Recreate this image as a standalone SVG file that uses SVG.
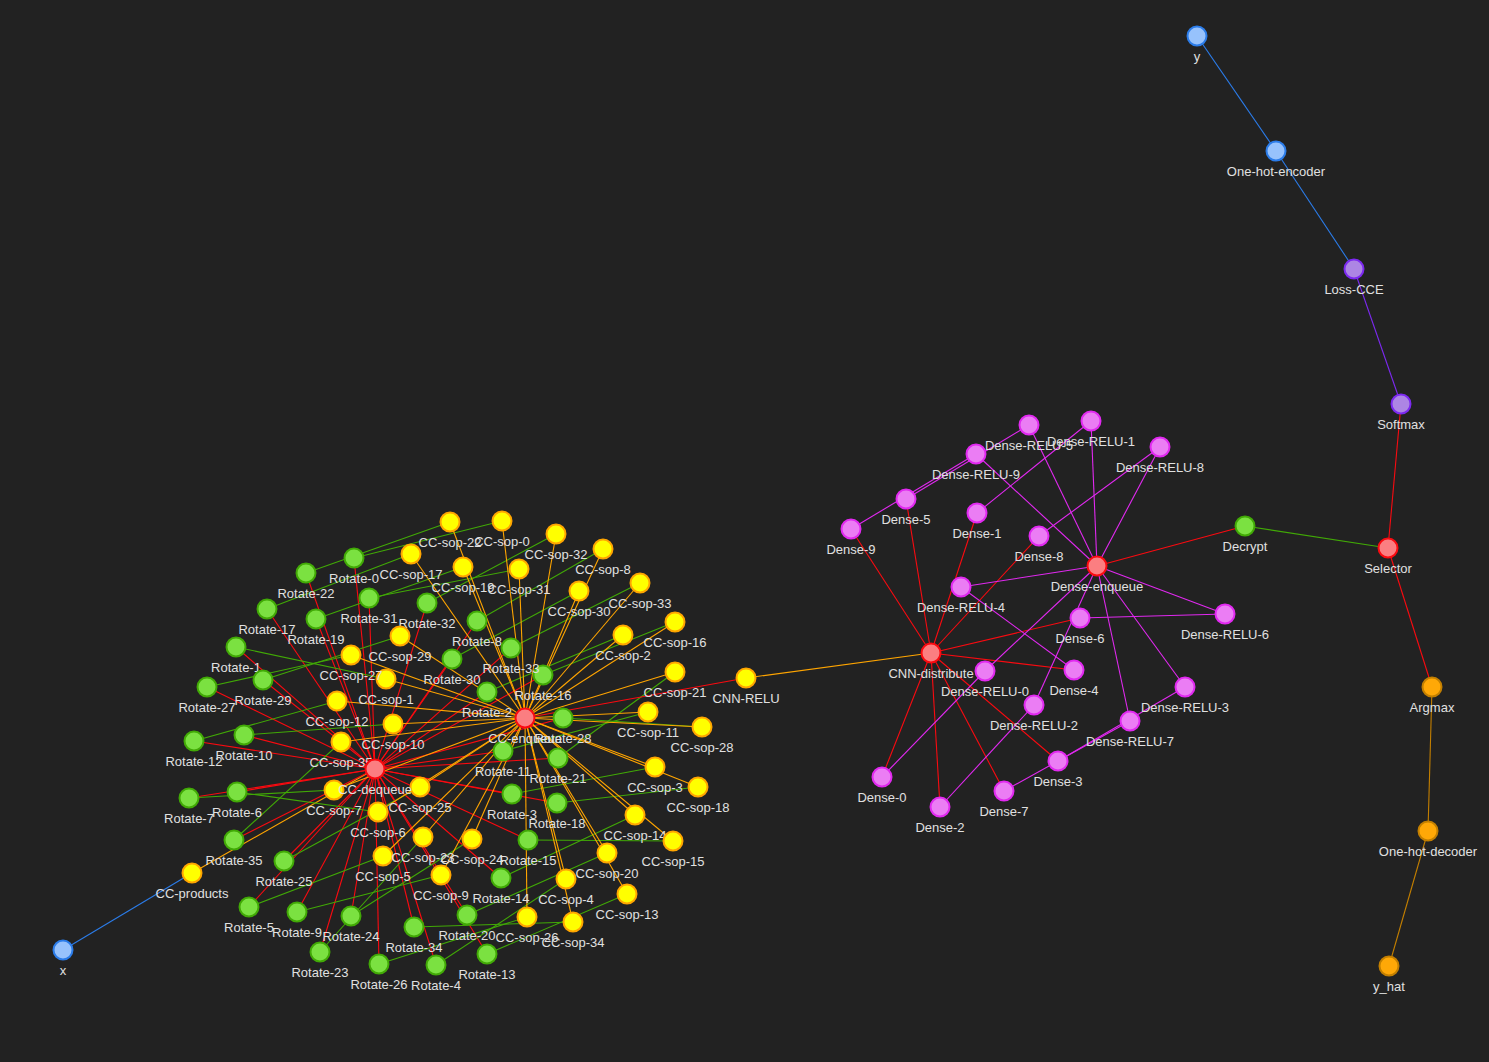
<svg xmlns="http://www.w3.org/2000/svg" width="1489" height="1062" viewBox="0 0 1489 1062">
<style>
.bg{fill:#222222}
line{stroke-width:1.1;fill:none}
.eb{stroke:#2B7CE9}.ey{stroke:#FFA500}.er{stroke:#FA0A10}.eg{stroke:#41A906}.em{stroke:#E129F0}.ep{stroke:#7C29F0}.eo{stroke:#C37F00}
circle{stroke-width:2}
.b circle{fill:#97C2FC;stroke:#2B7CE9}
.y circle{fill:#FFFF00;stroke:#FFA500}
.r circle{fill:#FB7E81;stroke:#FA0A10}
.g circle{fill:#7BE141;stroke:#41A906}
.m circle{fill:#EB7DF4;stroke:#E129F0}
.p circle{fill:#AD85E4;stroke:#7C29F0}
.o circle{fill:#FFA807;stroke:#C37F00}
text{font-family:"Liberation Sans",Arial,sans-serif;font-size:13px;fill:#e0e0e0;text-anchor:middle}
</style>
<rect class="bg" x="0" y="0" width="1489" height="1062"/>
<g id="connectors">
<line class="eb" x1="63" y1="950" x2="192" y2="873"/>
<line class="ey" x1="192" y1="873" x2="375" y2="769"/>
<!-- CC-dequeue to Rotate -->
<line class="er" x1="375" y1="769" x2="354" y2="558"/>
<line class="er" x1="375" y1="769" x2="236" y2="647"/>
<line class="er" x1="375" y1="769" x2="487" y2="692"/>
<line class="er" x1="375" y1="769" x2="512" y2="794"/>
<line class="er" x1="375" y1="769" x2="436" y2="965"/>
<line class="er" x1="375" y1="769" x2="249" y2="907"/>
<line class="er" x1="375" y1="769" x2="237" y2="792"/>
<line class="er" x1="375" y1="769" x2="189" y2="798"/>
<line class="er" x1="375" y1="769" x2="477" y2="621"/>
<line class="er" x1="375" y1="769" x2="297" y2="912"/>
<line class="er" x1="375" y1="769" x2="244" y2="735"/>
<line class="er" x1="375" y1="769" x2="503" y2="751"/>
<line class="er" x1="375" y1="769" x2="194" y2="741"/>
<line class="er" x1="375" y1="769" x2="487" y2="954"/>
<line class="er" x1="375" y1="769" x2="501" y2="878"/>
<line class="er" x1="375" y1="769" x2="528" y2="840"/>
<line class="er" x1="375" y1="769" x2="543" y2="675"/>
<line class="er" x1="375" y1="769" x2="267" y2="609"/>
<line class="er" x1="375" y1="769" x2="557" y2="803"/>
<line class="er" x1="375" y1="769" x2="316" y2="619"/>
<line class="er" x1="375" y1="769" x2="467" y2="915"/>
<line class="er" x1="375" y1="769" x2="558" y2="758"/>
<line class="er" x1="375" y1="769" x2="306" y2="573"/>
<line class="er" x1="375" y1="769" x2="320" y2="952"/>
<line class="er" x1="375" y1="769" x2="351" y2="916"/>
<line class="er" x1="375" y1="769" x2="284" y2="861"/>
<line class="er" x1="375" y1="769" x2="379" y2="964"/>
<line class="er" x1="375" y1="769" x2="207" y2="687"/>
<line class="er" x1="375" y1="769" x2="563" y2="718"/>
<line class="er" x1="375" y1="769" x2="263" y2="680"/>
<line class="er" x1="375" y1="769" x2="452" y2="659"/>
<line class="er" x1="375" y1="769" x2="369" y2="598"/>
<line class="er" x1="375" y1="769" x2="427" y2="603"/>
<line class="er" x1="375" y1="769" x2="511" y2="648"/>
<line class="er" x1="375" y1="769" x2="414" y2="927"/>
<line class="er" x1="375" y1="769" x2="234" y2="840"/>
<!-- Rotate-i to CC-sop-i -->
<line class="eg" x1="354" y1="558" x2="502" y2="521"/>
<line class="eg" x1="236" y1="647" x2="386" y2="679"/>
<line class="eg" x1="487" y1="692" x2="623" y2="635"/>
<line class="eg" x1="512" y1="794" x2="655" y2="767"/>
<line class="eg" x1="436" y1="965" x2="566" y2="879"/>
<line class="eg" x1="249" y1="907" x2="383" y2="856"/>
<line class="eg" x1="237" y1="792" x2="378" y2="812"/>
<line class="eg" x1="189" y1="798" x2="334" y2="790"/>
<line class="eg" x1="477" y1="621" x2="603" y2="549"/>
<line class="eg" x1="297" y1="912" x2="441" y2="875"/>
<line class="eg" x1="244" y1="735" x2="393" y2="724"/>
<line class="eg" x1="503" y1="751" x2="648" y2="712"/>
<line class="eg" x1="194" y1="741" x2="337" y2="701"/>
<line class="eg" x1="487" y1="954" x2="627" y2="894"/>
<line class="eg" x1="501" y1="878" x2="635" y2="815"/>
<line class="eg" x1="528" y1="840" x2="673" y2="841"/>
<line class="eg" x1="543" y1="675" x2="675" y2="622"/>
<line class="eg" x1="267" y1="609" x2="411" y2="554"/>
<line class="eg" x1="557" y1="803" x2="698" y2="787"/>
<line class="eg" x1="316" y1="619" x2="463" y2="567"/>
<line class="eg" x1="467" y1="915" x2="607" y2="853"/>
<line class="eg" x1="558" y1="758" x2="675" y2="672"/>
<line class="eg" x1="306" y1="573" x2="450" y2="522"/>
<line class="eg" x1="320" y1="952" x2="423" y2="837"/>
<line class="eg" x1="351" y1="916" x2="472" y2="839"/>
<line class="eg" x1="284" y1="861" x2="420" y2="787"/>
<line class="eg" x1="379" y1="964" x2="527" y2="917"/>
<line class="eg" x1="207" y1="687" x2="351" y2="655"/>
<line class="eg" x1="563" y1="718" x2="702" y2="727"/>
<line class="eg" x1="263" y1="680" x2="400" y2="636"/>
<line class="eg" x1="452" y1="659" x2="579" y2="591"/>
<line class="eg" x1="369" y1="598" x2="519" y2="569"/>
<line class="eg" x1="427" y1="603" x2="556" y2="534"/>
<line class="eg" x1="511" y1="648" x2="640" y2="583"/>
<line class="eg" x1="414" y1="927" x2="573" y2="922"/>
<line class="eg" x1="234" y1="840" x2="341" y2="742"/>
<!-- CC-sop to CC-enqueue -->
<line class="ey" x1="502" y1="521" x2="525" y2="718"/>
<line class="ey" x1="386" y1="679" x2="525" y2="718"/>
<line class="ey" x1="623" y1="635" x2="525" y2="718"/>
<line class="ey" x1="655" y1="767" x2="525" y2="718"/>
<line class="ey" x1="566" y1="879" x2="525" y2="718"/>
<line class="ey" x1="383" y1="856" x2="525" y2="718"/>
<line class="ey" x1="378" y1="812" x2="525" y2="718"/>
<line class="ey" x1="334" y1="790" x2="525" y2="718"/>
<line class="ey" x1="603" y1="549" x2="525" y2="718"/>
<line class="ey" x1="441" y1="875" x2="525" y2="718"/>
<line class="ey" x1="393" y1="724" x2="525" y2="718"/>
<line class="ey" x1="648" y1="712" x2="525" y2="718"/>
<line class="ey" x1="337" y1="701" x2="525" y2="718"/>
<line class="ey" x1="627" y1="894" x2="525" y2="718"/>
<line class="ey" x1="635" y1="815" x2="525" y2="718"/>
<line class="ey" x1="673" y1="841" x2="525" y2="718"/>
<line class="ey" x1="675" y1="622" x2="525" y2="718"/>
<line class="ey" x1="411" y1="554" x2="525" y2="718"/>
<line class="ey" x1="698" y1="787" x2="525" y2="718"/>
<line class="ey" x1="463" y1="567" x2="525" y2="718"/>
<line class="ey" x1="607" y1="853" x2="525" y2="718"/>
<line class="ey" x1="675" y1="672" x2="525" y2="718"/>
<line class="ey" x1="450" y1="522" x2="525" y2="718"/>
<line class="ey" x1="423" y1="837" x2="525" y2="718"/>
<line class="ey" x1="472" y1="839" x2="525" y2="718"/>
<line class="ey" x1="420" y1="787" x2="525" y2="718"/>
<line class="ey" x1="527" y1="917" x2="525" y2="718"/>
<line class="ey" x1="351" y1="655" x2="525" y2="718"/>
<line class="ey" x1="702" y1="727" x2="525" y2="718"/>
<line class="ey" x1="400" y1="636" x2="525" y2="718"/>
<line class="ey" x1="579" y1="591" x2="525" y2="718"/>
<line class="ey" x1="519" y1="569" x2="525" y2="718"/>
<line class="ey" x1="556" y1="534" x2="525" y2="718"/>
<line class="ey" x1="640" y1="583" x2="525" y2="718"/>
<line class="ey" x1="573" y1="922" x2="525" y2="718"/>
<line class="ey" x1="341" y1="742" x2="525" y2="718"/>
<line class="er" x1="525" y1="718" x2="746" y2="678"/>
<line class="ey" x1="746" y1="678" x2="931" y2="653"/>
<!-- CNN-distribute to Dense -->
<line class="er" x1="931" y1="653" x2="882" y2="777"/>
<line class="er" x1="931" y1="653" x2="977" y2="513"/>
<line class="er" x1="931" y1="653" x2="940" y2="807"/>
<line class="er" x1="931" y1="653" x2="1058" y2="761"/>
<line class="er" x1="931" y1="653" x2="1074" y2="670"/>
<line class="er" x1="931" y1="653" x2="906" y2="499"/>
<line class="er" x1="931" y1="653" x2="1080" y2="618"/>
<line class="er" x1="931" y1="653" x2="1004" y2="791"/>
<line class="er" x1="931" y1="653" x2="1039" y2="536"/>
<line class="er" x1="931" y1="653" x2="851" y2="529"/>
<!-- Dense to Dense-RELU -->
<line class="em" x1="882" y1="777" x2="985" y2="671"/>
<line class="em" x1="977" y1="513" x2="1091" y2="421"/>
<line class="em" x1="940" y1="807" x2="1034" y2="705"/>
<line class="em" x1="1058" y1="761" x2="1185" y2="687"/>
<line class="em" x1="1074" y1="670" x2="961" y2="587"/>
<line class="em" x1="906" y1="499" x2="1029" y2="425"/>
<line class="em" x1="1080" y1="618" x2="1225" y2="614"/>
<line class="em" x1="1004" y1="791" x2="1130" y2="721"/>
<line class="em" x1="1039" y1="536" x2="1160" y2="447"/>
<line class="em" x1="851" y1="529" x2="976" y2="454"/>
<!-- Dense-RELU to Dense-enqueue -->
<line class="em" x1="985" y1="671" x2="1097" y2="566"/>
<line class="em" x1="1091" y1="421" x2="1097" y2="566"/>
<line class="em" x1="1034" y1="705" x2="1097" y2="566"/>
<line class="em" x1="1185" y1="687" x2="1097" y2="566"/>
<line class="em" x1="961" y1="587" x2="1097" y2="566"/>
<line class="em" x1="1029" y1="425" x2="1097" y2="566"/>
<line class="em" x1="1225" y1="614" x2="1097" y2="566"/>
<line class="em" x1="1130" y1="721" x2="1097" y2="566"/>
<line class="em" x1="1160" y1="447" x2="1097" y2="566"/>
<line class="em" x1="976" y1="454" x2="1097" y2="566"/>
<line class="er" x1="1097" y1="566" x2="1245" y2="526"/>
<line class="eg" x1="1245" y1="526" x2="1388" y2="548"/>
<line class="er" x1="1388" y1="548" x2="1401" y2="404"/>
<line class="er" x1="1388" y1="548" x2="1432" y2="687"/>
<line class="ep" x1="1401" y1="404" x2="1354" y2="269"/>
<line class="eb" x1="1276" y1="151" x2="1354" y2="269"/>
<line class="eb" x1="1197" y1="36" x2="1276" y2="151"/>
<line class="eo" x1="1432" y1="687" x2="1428" y2="831"/>
<line class="eo" x1="1428" y1="831" x2="1389" y2="966"/>
</g>
<g id="nodes">
<g id="n-x" class="b"><circle cx="63" cy="950" r="9.5"/><text x="63" y="974.5">x</text></g>
<g id="n-cc-products" class="y"><circle cx="192" cy="873" r="9.5"/><text x="192" y="897.5">CC-products</text></g>
<g id="n-rotate-0" class="g"><circle cx="354" cy="558" r="9.5"/><text x="354" y="582.5">Rotate-0</text></g>
<g id="n-rotate-1" class="g"><circle cx="236" cy="647" r="9.5"/><text x="236" y="671.5">Rotate-1</text></g>
<g id="n-rotate-2" class="g"><circle cx="487" cy="692" r="9.5"/><text x="487" y="716.5">Rotate-2</text></g>
<g id="n-rotate-3" class="g"><circle cx="512" cy="794" r="9.5"/><text x="512" y="818.5">Rotate-3</text></g>
<g id="n-rotate-4" class="g"><circle cx="436" cy="965" r="9.5"/><text x="436" y="989.5">Rotate-4</text></g>
<g id="n-rotate-5" class="g"><circle cx="249" cy="907" r="9.5"/><text x="249" y="931.5">Rotate-5</text></g>
<g id="n-rotate-6" class="g"><circle cx="237" cy="792" r="9.5"/><text x="237" y="816.5">Rotate-6</text></g>
<g id="n-rotate-7" class="g"><circle cx="189" cy="798" r="9.5"/><text x="189" y="822.5">Rotate-7</text></g>
<g id="n-rotate-8" class="g"><circle cx="477" cy="621" r="9.5"/><text x="477" y="645.5">Rotate-8</text></g>
<g id="n-rotate-9" class="g"><circle cx="297" cy="912" r="9.5"/><text x="297" y="936.5">Rotate-9</text></g>
<g id="n-rotate-10" class="g"><circle cx="244" cy="735" r="9.5"/><text x="244" y="759.5">Rotate-10</text></g>
<g id="n-rotate-11" class="g"><circle cx="503" cy="751" r="9.5"/><text x="503" y="775.5">Rotate-11</text></g>
<g id="n-rotate-12" class="g"><circle cx="194" cy="741" r="9.5"/><text x="194" y="765.5">Rotate-12</text></g>
<g id="n-rotate-13" class="g"><circle cx="487" cy="954" r="9.5"/><text x="487" y="978.5">Rotate-13</text></g>
<g id="n-rotate-14" class="g"><circle cx="501" cy="878" r="9.5"/><text x="501" y="902.5">Rotate-14</text></g>
<g id="n-rotate-15" class="g"><circle cx="528" cy="840" r="9.5"/><text x="528" y="864.5">Rotate-15</text></g>
<g id="n-rotate-16" class="g"><circle cx="543" cy="675" r="9.5"/><text x="543" y="699.5">Rotate-16</text></g>
<g id="n-rotate-17" class="g"><circle cx="267" cy="609" r="9.5"/><text x="267" y="633.5">Rotate-17</text></g>
<g id="n-rotate-18" class="g"><circle cx="557" cy="803" r="9.5"/><text x="557" y="827.5">Rotate-18</text></g>
<g id="n-rotate-19" class="g"><circle cx="316" cy="619" r="9.5"/><text x="316" y="643.5">Rotate-19</text></g>
<g id="n-rotate-20" class="g"><circle cx="467" cy="915" r="9.5"/><text x="467" y="939.5">Rotate-20</text></g>
<g id="n-rotate-21" class="g"><circle cx="558" cy="758" r="9.5"/><text x="558" y="782.5">Rotate-21</text></g>
<g id="n-rotate-22" class="g"><circle cx="306" cy="573" r="9.5"/><text x="306" y="597.5">Rotate-22</text></g>
<g id="n-rotate-23" class="g"><circle cx="320" cy="952" r="9.5"/><text x="320" y="976.5">Rotate-23</text></g>
<g id="n-rotate-24" class="g"><circle cx="351" cy="916" r="9.5"/><text x="351" y="940.5">Rotate-24</text></g>
<g id="n-rotate-25" class="g"><circle cx="284" cy="861" r="9.5"/><text x="284" y="885.5">Rotate-25</text></g>
<g id="n-rotate-26" class="g"><circle cx="379" cy="964" r="9.5"/><text x="379" y="988.5">Rotate-26</text></g>
<g id="n-rotate-27" class="g"><circle cx="207" cy="687" r="9.5"/><text x="207" y="711.5">Rotate-27</text></g>
<g id="n-rotate-28" class="g"><circle cx="563" cy="718" r="9.5"/><text x="563" y="742.5">Rotate-28</text></g>
<g id="n-rotate-29" class="g"><circle cx="263" cy="680" r="9.5"/><text x="263" y="704.5">Rotate-29</text></g>
<g id="n-rotate-30" class="g"><circle cx="452" cy="659" r="9.5"/><text x="452" y="683.5">Rotate-30</text></g>
<g id="n-rotate-31" class="g"><circle cx="369" cy="598" r="9.5"/><text x="369" y="622.5">Rotate-31</text></g>
<g id="n-rotate-32" class="g"><circle cx="427" cy="603" r="9.5"/><text x="427" y="627.5">Rotate-32</text></g>
<g id="n-rotate-33" class="g"><circle cx="511" cy="648" r="9.5"/><text x="511" y="672.5">Rotate-33</text></g>
<g id="n-rotate-34" class="g"><circle cx="414" cy="927" r="9.5"/><text x="414" y="951.5">Rotate-34</text></g>
<g id="n-rotate-35" class="g"><circle cx="234" cy="840" r="9.5"/><text x="234" y="864.5">Rotate-35</text></g>
<g id="n-cc-sop-0" class="y"><circle cx="502" cy="521" r="9.5"/><text x="502" y="545.5">CC-sop-0</text></g>
<g id="n-cc-sop-1" class="y"><circle cx="386" cy="679" r="9.5"/><text x="386" y="703.5">CC-sop-1</text></g>
<g id="n-cc-sop-2" class="y"><circle cx="623" cy="635" r="9.5"/><text x="623" y="659.5">CC-sop-2</text></g>
<g id="n-cc-sop-3" class="y"><circle cx="655" cy="767" r="9.5"/><text x="655" y="791.5">CC-sop-3</text></g>
<g id="n-cc-sop-4" class="y"><circle cx="566" cy="879" r="9.5"/><text x="566" y="903.5">CC-sop-4</text></g>
<g id="n-cc-sop-5" class="y"><circle cx="383" cy="856" r="9.5"/><text x="383" y="880.5">CC-sop-5</text></g>
<g id="n-cc-sop-6" class="y"><circle cx="378" cy="812" r="9.5"/><text x="378" y="836.5">CC-sop-6</text></g>
<g id="n-cc-sop-7" class="y"><circle cx="334" cy="790" r="9.5"/><text x="334" y="814.5">CC-sop-7</text></g>
<g id="n-cc-sop-8" class="y"><circle cx="603" cy="549" r="9.5"/><text x="603" y="573.5">CC-sop-8</text></g>
<g id="n-cc-sop-9" class="y"><circle cx="441" cy="875" r="9.5"/><text x="441" y="899.5">CC-sop-9</text></g>
<g id="n-cc-sop-10" class="y"><circle cx="393" cy="724" r="9.5"/><text x="393" y="748.5">CC-sop-10</text></g>
<g id="n-cc-sop-11" class="y"><circle cx="648" cy="712" r="9.5"/><text x="648" y="736.5">CC-sop-11</text></g>
<g id="n-cc-sop-12" class="y"><circle cx="337" cy="701" r="9.5"/><text x="337" y="725.5">CC-sop-12</text></g>
<g id="n-cc-sop-13" class="y"><circle cx="627" cy="894" r="9.5"/><text x="627" y="918.5">CC-sop-13</text></g>
<g id="n-cc-sop-14" class="y"><circle cx="635" cy="815" r="9.5"/><text x="635" y="839.5">CC-sop-14</text></g>
<g id="n-cc-sop-15" class="y"><circle cx="673" cy="841" r="9.5"/><text x="673" y="865.5">CC-sop-15</text></g>
<g id="n-cc-sop-16" class="y"><circle cx="675" cy="622" r="9.5"/><text x="675" y="646.5">CC-sop-16</text></g>
<g id="n-cc-sop-17" class="y"><circle cx="411" cy="554" r="9.5"/><text x="411" y="578.5">CC-sop-17</text></g>
<g id="n-cc-sop-18" class="y"><circle cx="698" cy="787" r="9.5"/><text x="698" y="811.5">CC-sop-18</text></g>
<g id="n-cc-sop-19" class="y"><circle cx="463" cy="567" r="9.5"/><text x="463" y="591.5">CC-sop-19</text></g>
<g id="n-cc-sop-20" class="y"><circle cx="607" cy="853" r="9.5"/><text x="607" y="877.5">CC-sop-20</text></g>
<g id="n-cc-sop-21" class="y"><circle cx="675" cy="672" r="9.5"/><text x="675" y="696.5">CC-sop-21</text></g>
<g id="n-cc-sop-22" class="y"><circle cx="450" cy="522" r="9.5"/><text x="450" y="546.5">CC-sop-22</text></g>
<g id="n-cc-sop-23" class="y"><circle cx="423" cy="837" r="9.5"/><text x="423" y="861.5">CC-sop-23</text></g>
<g id="n-cc-sop-24" class="y"><circle cx="472" cy="839" r="9.5"/><text x="472" y="863.5">CC-sop-24</text></g>
<g id="n-cc-sop-25" class="y"><circle cx="420" cy="787" r="9.5"/><text x="420" y="811.5">CC-sop-25</text></g>
<g id="n-cc-sop-26" class="y"><circle cx="527" cy="917" r="9.5"/><text x="527" y="941.5">CC-sop-26</text></g>
<g id="n-cc-sop-27" class="y"><circle cx="351" cy="655" r="9.5"/><text x="351" y="679.5">CC-sop-27</text></g>
<g id="n-cc-sop-28" class="y"><circle cx="702" cy="727" r="9.5"/><text x="702" y="751.5">CC-sop-28</text></g>
<g id="n-cc-sop-29" class="y"><circle cx="400" cy="636" r="9.5"/><text x="400" y="660.5">CC-sop-29</text></g>
<g id="n-cc-sop-30" class="y"><circle cx="579" cy="591" r="9.5"/><text x="579" y="615.5">CC-sop-30</text></g>
<g id="n-cc-sop-31" class="y"><circle cx="519" cy="569" r="9.5"/><text x="519" y="593.5">CC-sop-31</text></g>
<g id="n-cc-sop-32" class="y"><circle cx="556" cy="534" r="9.5"/><text x="556" y="558.5">CC-sop-32</text></g>
<g id="n-cc-sop-33" class="y"><circle cx="640" cy="583" r="9.5"/><text x="640" y="607.5">CC-sop-33</text></g>
<g id="n-cc-sop-34" class="y"><circle cx="573" cy="922" r="9.5"/><text x="573" y="946.5">CC-sop-34</text></g>
<g id="n-cc-sop-35" class="y"><circle cx="341" cy="742" r="9.5"/><text x="341" y="766.5">CC-sop-35</text></g>
<g id="n-cc-dequeue" class="r"><circle cx="375" cy="769" r="9.5"/><text x="375" y="793.5">CC-dequeue</text></g>
<g id="n-cc-enqueue" class="r"><circle cx="525" cy="718" r="9.5"/><text x="525" y="742.5">CC-enqueue</text></g>
<g id="n-cnn-relu" class="y"><circle cx="746" cy="678" r="9.5"/><text x="746" y="702.5">CNN-RELU</text></g>
<g id="n-cnn-distribute" class="r"><circle cx="931" cy="653" r="9.5"/><text x="931" y="677.5">CNN-distribute</text></g>
<g id="n-dense-0" class="m"><circle cx="882" cy="777" r="9.5"/><text x="882" y="801.5">Dense-0</text></g>
<g id="n-dense-1" class="m"><circle cx="977" cy="513" r="9.5"/><text x="977" y="537.5">Dense-1</text></g>
<g id="n-dense-2" class="m"><circle cx="940" cy="807" r="9.5"/><text x="940" y="831.5">Dense-2</text></g>
<g id="n-dense-3" class="m"><circle cx="1058" cy="761" r="9.5"/><text x="1058" y="785.5">Dense-3</text></g>
<g id="n-dense-4" class="m"><circle cx="1074" cy="670" r="9.5"/><text x="1074" y="694.5">Dense-4</text></g>
<g id="n-dense-5" class="m"><circle cx="906" cy="499" r="9.5"/><text x="906" y="523.5">Dense-5</text></g>
<g id="n-dense-6" class="m"><circle cx="1080" cy="618" r="9.5"/><text x="1080" y="642.5">Dense-6</text></g>
<g id="n-dense-7" class="m"><circle cx="1004" cy="791" r="9.5"/><text x="1004" y="815.5">Dense-7</text></g>
<g id="n-dense-8" class="m"><circle cx="1039" cy="536" r="9.5"/><text x="1039" y="560.5">Dense-8</text></g>
<g id="n-dense-9" class="m"><circle cx="851" cy="529" r="9.5"/><text x="851" y="553.5">Dense-9</text></g>
<g id="n-dense-relu-0" class="m"><circle cx="985" cy="671" r="9.5"/><text x="985" y="695.5">Dense-RELU-0</text></g>
<g id="n-dense-relu-1" class="m"><circle cx="1091" cy="421" r="9.5"/><text x="1091" y="445.5">Dense-RELU-1</text></g>
<g id="n-dense-relu-2" class="m"><circle cx="1034" cy="705" r="9.5"/><text x="1034" y="729.5">Dense-RELU-2</text></g>
<g id="n-dense-relu-3" class="m"><circle cx="1185" cy="687" r="9.5"/><text x="1185" y="711.5">Dense-RELU-3</text></g>
<g id="n-dense-relu-4" class="m"><circle cx="961" cy="587" r="9.5"/><text x="961" y="611.5">Dense-RELU-4</text></g>
<g id="n-dense-relu-5" class="m"><circle cx="1029" cy="425" r="9.5"/><text x="1029" y="449.5">Dense-RELU-5</text></g>
<g id="n-dense-relu-6" class="m"><circle cx="1225" cy="614" r="9.5"/><text x="1225" y="638.5">Dense-RELU-6</text></g>
<g id="n-dense-relu-7" class="m"><circle cx="1130" cy="721" r="9.5"/><text x="1130" y="745.5">Dense-RELU-7</text></g>
<g id="n-dense-relu-8" class="m"><circle cx="1160" cy="447" r="9.5"/><text x="1160" y="471.5">Dense-RELU-8</text></g>
<g id="n-dense-relu-9" class="m"><circle cx="976" cy="454" r="9.5"/><text x="976" y="478.5">Dense-RELU-9</text></g>
<g id="n-dense-enqueue" class="r"><circle cx="1097" cy="566" r="9.5"/><text x="1097" y="590.5">Dense-enqueue</text></g>
<g id="n-decrypt" class="g"><circle cx="1245" cy="526" r="9.5"/><text x="1245" y="550.5">Decrypt</text></g>
<g id="n-selector" class="r"><circle cx="1388" cy="548" r="9.5"/><text x="1388" y="572.5">Selector</text></g>
<g id="n-softmax" class="p"><circle cx="1401" cy="404" r="9.5"/><text x="1401" y="428.5">Softmax</text></g>
<g id="n-loss-cce" class="p"><circle cx="1354" cy="269" r="9.5"/><text x="1354" y="293.5">Loss-CCE</text></g>
<g id="n-one-hot-encoder" class="b"><circle cx="1276" cy="151" r="9.5"/><text x="1276" y="175.5">One-hot-encoder</text></g>
<g id="n-y" class="b"><circle cx="1197" cy="36" r="9.5"/><text x="1197" y="60.5">y</text></g>
<g id="n-argmax" class="o"><circle cx="1432" cy="687" r="9.5"/><text x="1432" y="711.5">Argmax</text></g>
<g id="n-one-hot-decoder" class="o"><circle cx="1428" cy="831" r="9.5"/><text x="1428" y="855.5">One-hot-decoder</text></g>
<g id="n-y-hat" class="o"><circle cx="1389" cy="966" r="9.5"/><text x="1389" y="990.5">y_hat</text></g>
</g>
</svg>
